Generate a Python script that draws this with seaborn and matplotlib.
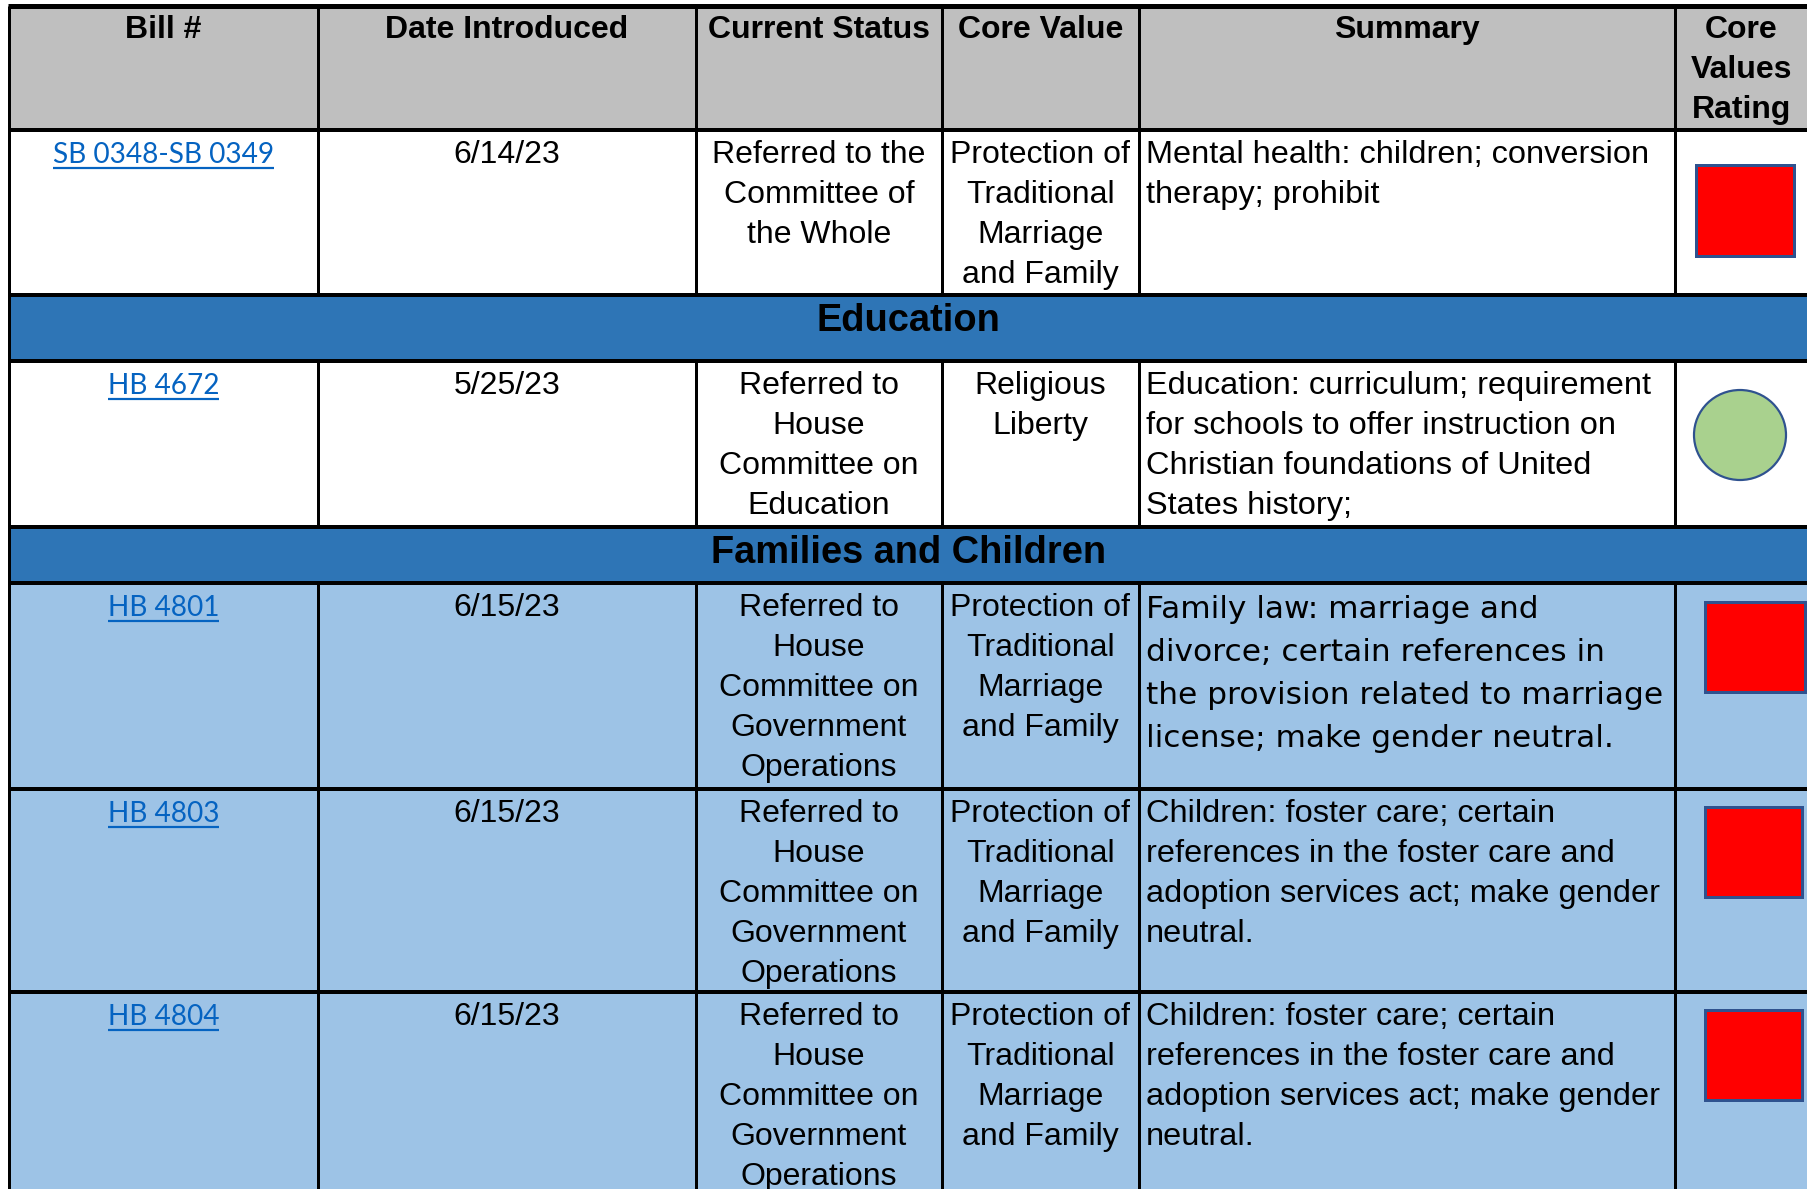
import matplotlib
matplotlib.use("Agg")
import matplotlib.pyplot as plt
import seaborn as sns
from matplotlib.patches import Rectangle, Ellipse

# ---------------- data ----------------
headers = ["Bill #", "Date Introduced", "Current Status", "Core Value", "Summary", "Core\nValues\nRating"]
bills = ["SB 0348-SB 0349", "HB 4672", "HB 4801", "HB 4803", "HB 4804"]
dates = ["6/14/23", "5/25/23", "6/15/23", "6/15/23", "6/15/23"]
statuses = [
    "Referred to the\nCommittee of\nthe Whole",
    "Referred to\nHouse\nCommittee on\nEducation",
    "Referred to\nHouse\nCommittee on\nGovernment\nOperations",
    "Referred to\nHouse\nCommittee on\nGovernment\nOperations",
    "Referred to\nHouse\nCommittee on\nGovernment\nOperations",
]
core_values = [
    "Protection of\nTraditional\nMarriage\nand Family",
    "Religious\nLiberty",
    "Protection of\nTraditional\nMarriage\nand Family",
    "Protection of\nTraditional\nMarriage\nand Family",
    "Protection of\nTraditional\nMarriage\nand Family",
]
summaries = [
    "Mental health: children; conversion\ntherapy; prohibit",
    "Education: curriculum; requirement\nfor schools to offer instruction on\nChristian foundations of United\nStates history;",
    "Family law: marriage and\ndivorce; certain references in\nthe provision related to marriage\nlicense; make gender neutral.",
    "Children: foster care; certain\nreferences in the foster care and\nadoption services act; make gender\nneutral.",
    "Children: foster care; certain\nreferences in the foster care and\nadoption services act; make gender\nneutral.",
]
ratings = ["red", "green", "red", "red", "red"]
sections = ["", "Education", "Families and Children", "", ""]  # band shown before the row

# ---------------- style / layout ----------------
sns.set_theme(style="white")
plt.rcParams["font.family"] = ["Liberation Sans", "DejaVu Sans"]

W, H = 1808, 1189
fig = plt.figure(figsize=(W / 100, H / 100), dpi=100)
ax = fig.add_axes([0, 0, 1, 1])
ax.set_xlim(0, W)
ax.set_ylim(H, 0)
ax.axis("off")

PT = 0.72  # px -> pt
col_edges = [9, 318, 696, 942, 1139, 1675, 1808]
header_top, header_bot = 6, 130
row_tops = [130, 361, 583, 789, 992]
row_bots = [295, 527, 789, 992, 1230]
bands = {1: (295, 361, 318), 2: (527, 583, 550)}
row_fill = ["white", "white", "#9DC3E6", "#9DC3E6", "#9DC3E6"]
shape_boxes = [(1696, 165, 98, 91), (1694, 390, 92, 90), (1705, 602, 100, 90),
               (1705, 807, 97, 90), (1705, 1010, 97, 90)]

GRAY = "#BFBFBF"
BAND = "#2E75B6"
LINK = "#0563C1"
LW = 3 * PT

FS = 32 * PT
LINE = 40

def put_lines(x, y0, text, ha="center", fs=FS, weight="normal", color="black",
              family=None, step=LINE):
    for i, ln in enumerate(text.split("\n")):
        kw = {}
        if family:
            kw["family"] = family
        ax.text(x, y0 + i * step + 11, ln, ha=ha, va="baseline", fontsize=fs,
                fontweight=weight, color=color, **kw)

# header
ax.add_patch(Rectangle((col_edges[0], header_top), W - col_edges[0], header_bot - header_top,
                       facecolor=GRAY, edgecolor="none"))
for j, h in enumerate(headers):
    xc = (col_edges[j] + col_edges[j + 1]) / 2
    put_lines(xc, 27, h, weight="bold")

# rows
link_texts = []
for i in range(len(bills)):
    t, b = row_tops[i], row_bots[i]
    ax.add_patch(Rectangle((col_edges[0], t), W - col_edges[0], b - t,
                           facecolor=row_fill[i], edgecolor="none"))
    xc = [(col_edges[j] + col_edges[j + 1]) / 2 for j in range(6)]
    lt = ax.text(xc[0], t + 22 + 11, bills[i], ha="center", va="baseline",
                 fontsize=28 * PT, color=LINK, family=["Lato", "DejaVu Sans"])
    link_texts.append((lt, t + 22 + 16))
    put_lines(xc[1], t + 22, dates[i])
    put_lines(xc[2], t + 22, statuses[i])
    put_lines(xc[3], t + 22, core_values[i])
    if i == 2:
        put_lines(col_edges[4] + 7, t + 24, summaries[i], ha="left", fs=31.3 * PT,
                  family=["DejaVu Sans"], step=43)
    else:
        put_lines(col_edges[4] + 7, t + 22, summaries[i], ha="left", fs=32.5 * PT)
    x0, y0, w, h = shape_boxes[i]
    if ratings[i] == "green":
        ax.add_patch(Ellipse((x0 + w / 2, y0 + h / 2), w, h, facecolor="#A9D18E",
                             edgecolor="#2F528F", lw=2.2 * PT))
    else:
        ax.add_patch(Rectangle((x0, y0), w, h, facecolor="#FF0000",
                               edgecolor="#2F528F", lw=3 * PT))

# vertical lines (cells only, not bands)
segments = [(header_top, header_bot)] + list(zip(row_tops, row_bots))
for (t, b) in segments:
    for x in col_edges[:-1]:
        ax.plot([x, x], [t, b], color="black", lw=LW, solid_capstyle="butt")

# bands
for i, (t, b, yt) in bands.items():
    ax.add_patch(Rectangle((col_edges[0], t), W - col_edges[0], b - t,
                           facecolor=BAND, edgecolor="none", zorder=3))
    ax.text((col_edges[0] + W) / 2, yt + 13, sections[i], ha="center", va="baseline",
            fontsize=38 * PT, fontweight="bold", color="black", zorder=4)
    ax.plot([col_edges[0], col_edges[0]], [t, b], color="black", lw=LW, zorder=4)

# horizontal lines
for y, lw in [(header_top, 5), (header_bot, 4), (295, 4), (361, 4), (527, 4), (583, 4),
              (789, 4), (992, 4)]:
    ax.plot([col_edges[0] - 1, W], [y, y], color="black", lw=lw * PT,
            solid_capstyle="butt", zorder=5)

# underline links
fig.canvas.draw()
r = fig.canvas.get_renderer()
for lt, yu in link_texts:
    bb = lt.get_window_extent(renderer=r)
    inv = ax.transData.inverted()
    (xa, _), (xb, _) = inv.transform([(bb.x0, bb.y0), (bb.x1, bb.y0)])
    ax.plot([xa, xb], [yu, yu], color=LINK, lw=2.2 * PT, solid_capstyle="butt")

fig.savefig("out.png", dpi=100)
